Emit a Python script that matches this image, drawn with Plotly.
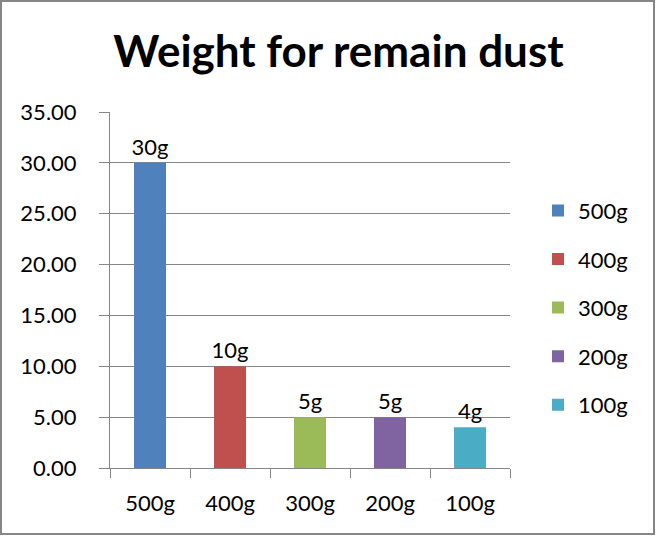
import plotly.graph_objects as go

categories = ["500g", "400g", "300g", "200g", "100g"]
values = [30, 10, 5, 5, 4]
labels = ["30g", "10g", "5g", "5g", "4g"]
colors = ["#4F81BD", "#C0504D", "#9BBB59", "#8064A2", "#4BACC6"]

FONT = "Lato"
FS = 22
fig = go.Figure()
for i, (c, v, l, col) in enumerate(zip(categories, values, labels, colors)):
    fig.add_trace(go.Bar(
        x=[c], y=[v], name=c, text=[l], textposition="outside",
        constraintext="none",
        textfont=dict(size=FS, color="black", family=FONT),
        marker=dict(color=col, line=dict(width=0)), width=0.4,
        cliponaxis=False, legendgroup=c,
    ))

fig.update_layout(
    width=656, height=536,
    margin=dict(l=110, r=146, t=112, b=68),
    paper_bgcolor="white", plot_bgcolor="white",
    barmode="overlay",
    font=dict(family=FONT, size=FS, color="black"),
    title=dict(text="<b>Weight for remain dust</b>", x=0.516, xanchor="center",
               y=0.903, yanchor="middle", yref="container",
               font=dict(size=44, family=FONT, color="black")),
    legend=dict(x=1.07, xanchor="left", y=0.782, yanchor="top",
                tracegroupgap=17, font=dict(size=FS, family=FONT),
                bgcolor="rgba(0,0,0,0)"),
    showlegend=True,
)
fig.update_yaxes(range=[0, 35], dtick=5, tickformat=".2f",
                 showgrid=True, gridcolor="#868686", gridwidth=1,
                 showline=True, linecolor="#868686", linewidth=1,
                 ticks="outside", ticklen=10, tickcolor="#868686",
                 ticklabelstandoff=18, zeroline=False,
                 tickfont=dict(size=FS, family=FONT, color="black"))
fig.update_xaxes(showgrid=False, showline=True, linecolor="#868686", linewidth=1,
                 ticks="outside", ticklen=9, tickcolor="#868686",
                 tickson="boundaries", ticklabelstandoff=16,
                 tickfont=dict(size=FS, family=FONT, color="black"))
# outer chart border
fig.add_shape(type="rect", xref="paper", yref="paper",
              x0=(1 - 110) / 400, x1=(654 - 110) / 400,
              y0=(468 - 534) / 356, y1=(468 - 1) / 356,
              line=dict(color="#868686", width=2), fillcolor="rgba(0,0,0,0)", layer="below")

fig.write_html("out.html", config={"displayModeBar": False},
               post_script="document.body.style.margin='0';")
